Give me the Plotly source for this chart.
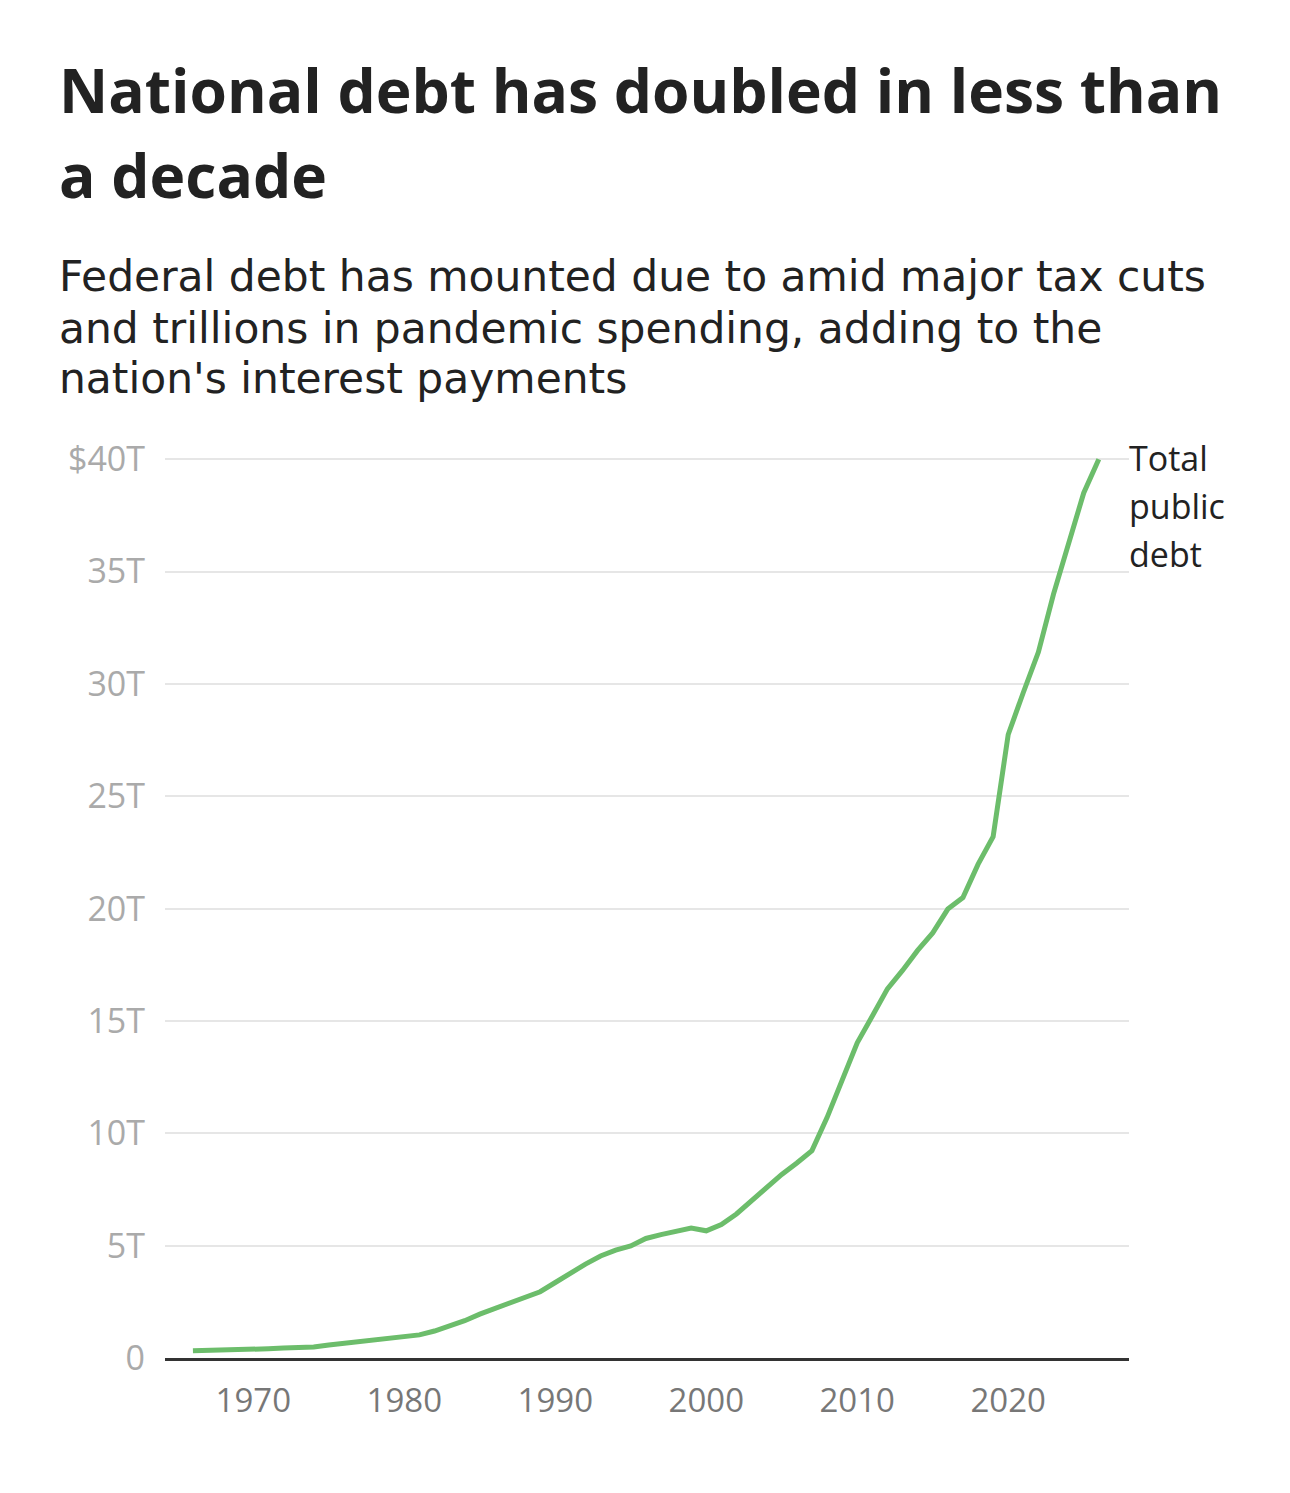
import plotly.graph_objects as go

years = [1966, 1967, 1968, 1969, 1970, 1971, 1972, 1973, 1974, 1975,
         1976, 1977, 1978, 1979, 1980, 1981, 1982, 1983, 1984, 1985,
         1986, 1987, 1988, 1989, 1990, 1991, 1992, 1993, 1994, 1995,
         1996, 1997, 1998, 1999, 2000, 2001, 2002, 2003, 2004, 2005,
         2006, 2007, 2008, 2009, 2010, 2011, 2012, 2013, 2014, 2015,
         2016, 2017, 2018, 2019, 2020, 2021, 2022, 2023, 2024, 2025,
         2026]
debt_trillions = [0.32, 0.33, 0.35, 0.36, 0.38, 0.41, 0.44, 0.47, 0.49, 0.58,
                  0.65, 0.72, 0.79, 0.85, 0.93, 1.03, 1.20, 1.41, 1.66, 1.95,
                  2.21, 2.43, 2.68, 2.95, 3.36, 3.80, 4.18, 4.54, 4.80, 4.99,
                  5.32, 5.49, 5.61, 5.78, 5.66, 5.94, 6.41, 7.00, 7.60, 8.17,
                  8.68, 9.23, 10.70, 12.31, 14.03, 15.22, 16.43, 17.25, 18.14, 18.92,
                  19.98, 20.49, 21.97, 23.20, 27.75, 29.62, 31.42, 34.00, 36.22, 38.50,
                  40.0]

y_tick_vals = [0, 5, 10, 15, 20, 25, 30, 35, 40]
y_tick_text = ["0", "5T", "10T", "15T", "20T", "25T", "30T", "35T", "$40T"]
x_tick_vals = [1970, 1980, 1990, 2000, 2010, 2020]
x_tick_text = ["1970", "1980", "1990", "2000", "2010", "2020"]

title_lines = ["National debt has doubled in less than", "a decade"]
subtitle_lines = ["Federal debt has mounted due to amid major tax cuts",
                  "and trillions in pandemic spending, adding to the",
                  "nation's interest payments"]
series_label = ["Total", "public", "debt"]

FONT = "Open Sans"
SUB_FONT = "DejaVu Sans"
W, H = 1274, 1477          # page adds an 8px body margin around the figure
L, R, T, B = 157, 153, 449, 127

fig = go.Figure()
fig.add_trace(go.Scatter(
    x=years, y=debt_trillions, mode="lines",
    line=dict(color="#6cbd6b", width=5),
    cliponaxis=False, hoverinfo="skip", showlegend=False,
))

fig.update_layout(
    width=W, height=H,
    margin=dict(l=L, r=R, t=T, b=B, autoexpand=False),
    paper_bgcolor="white", plot_bgcolor="white",
    font=dict(family=FONT, color="#222222"),
    showlegend=False,
)
fig.update_xaxes(
    range=[1964.15, 2028.0],
    tickvals=x_tick_vals, ticktext=x_tick_text,
    tickfont=dict(size=33, color="#777777", family=FONT),
    showgrid=False, zeroline=False,
    showline=True, linecolor="#333333", linewidth=2.5,
    ticks="", ticklabelstandoff=12,
)
fig.update_yaxes(
    range=[0, 40.1],
    tickvals=y_tick_vals, ticktext=y_tick_text,
    tickfont=dict(size=34, color="#aaaaaa", family=FONT),
    showgrid=True, gridcolor="#e6e6e6", gridwidth=2,
    zeroline=False, showline=False, ticks="",
    ticklabelstandoff=19,
)

PH = H - T - B
PW = W - L - R


def px_x(x):
    return (x - L) / PW


def px_y(y):
    return (H - B - y) / PH


def baseline_text(txt, x, y_base, size, family, descent, bold=False,
                  color="#222222"):
    shown = "<b>" + txt + "</b>" if bold else txt
    return dict(
        text=shown, xref="paper", yref="paper",
        x=px_x(x), y=px_y(y_base),
        xanchor="left", yanchor="bottom", showarrow=False,
        font=dict(size=size, color=color, family=family),
        yshift=-(descent * size + 2),
    )


annotations = []
for txt, yb in zip(title_lines, [105, 190]):
    annotations.append(baseline_text(txt, 49, yb, 60.5, FONT, 0.293, bold=True))
for txt, yb in zip(subtitle_lines, [283, 335, 385]):
    annotations.append(baseline_text(txt, 49, yb, 42.4, SUB_FONT, 0.236))
for txt, yb in zip(series_label, [463, 511, 559]):
    annotations.append(baseline_text(txt, 1119, yb, 34, FONT, 0.293))
fig.update_layout(annotations=annotations)

fig.write_html("out.html")
